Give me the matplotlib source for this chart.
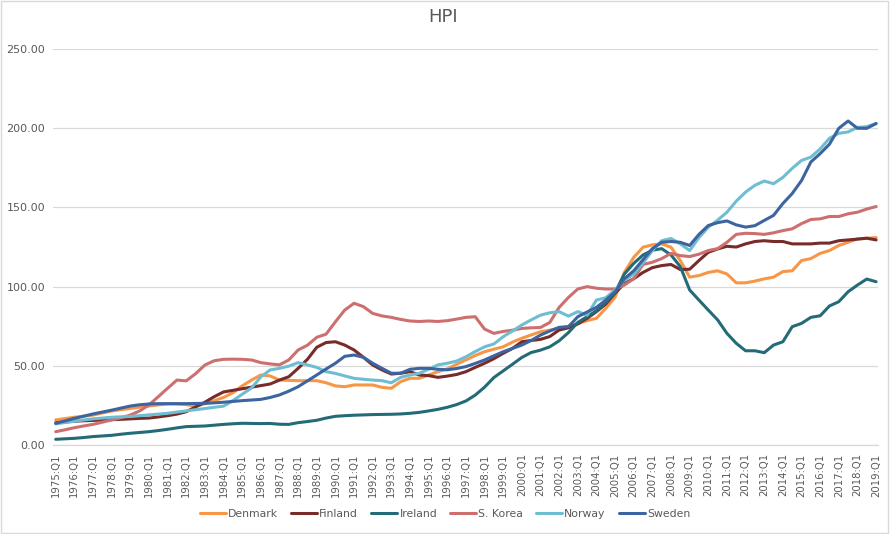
import matplotlib.pyplot as plt
import matplotlib.patches as patches

# quarterly category axis, 1975:Q1 .. 2019:Q1
quarters = [f"{y}:Q{q}" for y in range(1975, 2020) for q in range(1, 5)][:177]
# values read at Q1 and Q3 of each year
periods = [f"{y}:Q{q}" for y in range(1975, 2020) for q in (1, 3)][:89]

denmark = [15.8, 16.7, 17.5, 18.2, 18.9, 20.2, 21.5, 22.3, 23.1, 23.9,
           24.6, 25.3, 25.9, 25.9, 25.5, 24.5, 26.0, 28.0, 30.0, 33.0,
           37.3, 41.0, 44.2, 43.6, 41.0, 40.8, 40.6, 40.6, 40.6, 39.3,
           37.3, 36.8, 37.9, 37.9, 37.9, 36.4, 35.8, 40.0, 42.1, 42.1,
           44.2, 46.3, 48.0, 51.0, 53.7, 56.5, 58.9, 60.5, 62.0, 65.0,
           67.4, 69.5, 71.5, 72.5, 73.7, 75.0, 76.8, 78.5, 80.0, 86.3,
           93.3, 109.0, 118.5, 124.9, 126.4, 127.0, 124.9, 116.5, 106.0, 107.0,
           109.0, 110.0, 108.0, 102.4, 102.4, 103.5, 104.9, 106.0, 109.5, 110.0,
           116.5, 117.7, 121.0, 122.8, 126.0, 128.0, 130.2, 130.5, 131.0]
finland = [14.0, 14.5, 15.0, 15.3, 15.5, 15.8, 16.0, 16.2, 16.5, 16.8,
           17.0, 17.7, 18.5, 19.5, 21.0, 24.0, 27.0, 30.5, 33.5, 34.5,
           35.5, 36.5, 37.5, 38.5, 41.0, 43.1, 48.4, 54.1, 61.7, 64.7,
           65.2, 63.1, 60.0, 55.4, 50.5, 47.4, 44.8, 45.3, 46.3, 44.2,
           43.8, 42.7, 43.5, 44.5, 46.3, 49.0, 51.6, 54.5, 57.9, 61.0,
           65.2, 66.0, 66.7, 68.5, 72.6, 74.0, 76.4, 80.0, 84.2, 89.0,
           95.8, 102.0, 105.0, 109.0, 112.0, 113.3, 114.0, 110.8, 111.0, 116.5,
           121.7, 123.8, 125.5, 125.0, 127.0, 128.5, 129.0, 128.5, 128.5, 127.0,
           127.0, 127.0, 127.5, 127.5, 129.0, 129.5, 130.0, 130.6, 129.5]
ireland = [3.6, 3.9, 4.2, 4.7, 5.3, 5.7, 6.1, 6.8, 7.4, 7.9,
           8.4, 9.1, 9.9, 10.8, 11.6, 11.8, 12.0, 12.5, 13.0, 13.4,
           13.7, 13.6, 13.5, 13.6, 13.1, 13.0, 14.1, 14.8, 15.6, 17.0,
           18.1, 18.5, 18.8, 19.0, 19.2, 19.3, 19.4, 19.6, 20.0, 20.6,
           21.5, 22.5, 23.8, 25.5, 27.8, 31.5, 36.5, 42.6, 46.8, 51.0,
           55.3, 58.4, 59.9, 62.0, 65.8, 71.0, 77.4, 81.0, 84.8, 90.0,
           96.4, 108.0, 114.7, 120.0, 123.0, 124.0, 120.0, 112.6, 97.9, 91.5,
           85.2, 79.0, 70.5, 64.2, 59.5, 59.5, 58.3, 63.1, 65.2, 74.7,
           76.8, 80.6, 81.6, 87.8, 90.5, 96.8, 101.0, 104.8, 103.1]
korea = [8.4, 9.6, 10.9, 12.0, 13.0, 14.4, 15.8, 17.2, 18.9, 21.5,
         25.3, 30.5, 35.8, 41.0, 40.5, 45.0, 50.5, 53.2, 54.1, 54.2,
         54.1, 53.7, 52.0, 51.2, 50.6, 53.7, 60.0, 63.0, 68.0, 70.0,
         77.8, 85.2, 89.5, 87.4, 83.1, 81.5, 80.6, 79.3, 78.3, 78.0,
         78.3, 78.0, 78.5, 79.5, 80.6, 81.0, 73.2, 70.5, 71.7, 72.5,
         73.6, 74.0, 74.2, 77.4, 86.9, 93.2, 98.5, 100.0, 99.0, 98.5,
         98.5, 101.0, 105.0, 114.0, 115.4, 117.7, 121.0, 119.6, 119.0, 120.5,
         122.8, 124.0, 128.0, 133.0, 133.7, 133.5, 133.0, 134.0, 135.4, 136.5,
         139.8, 142.4, 142.8, 144.3, 144.3, 146.0, 147.0, 149.0, 150.6]
norway = [13.3, 14.2, 15.0, 15.8, 16.5, 17.0, 17.5, 17.8, 18.0, 18.5,
          19.0, 19.5, 20.0, 20.8, 21.5, 22.3, 23.0, 23.8, 24.5, 28.0,
          32.0, 36.0, 43.0, 47.4, 48.4, 49.8, 52.0, 50.6, 49.0, 46.3,
          45.2, 43.6, 42.1, 41.5, 41.0, 40.6, 39.3, 42.7, 44.2, 45.3,
          47.8, 50.6, 51.6, 53.0, 55.7, 59.0, 62.0, 63.8, 68.4, 72.0,
          75.8, 79.0, 82.0, 83.5, 84.2, 81.4, 84.2, 82.0, 91.5, 93.0,
          97.9, 104.0, 108.0, 115.0, 122.8, 129.0, 130.4, 127.0, 122.8, 131.0,
          137.5, 142.0, 147.0, 154.0, 159.7, 164.0, 166.7, 165.0, 169.0, 174.7,
          179.7, 181.8, 187.0, 193.7, 196.8, 197.7, 200.6, 201.0, 203.0]
sweden = [13.7, 15.2, 16.8, 18.2, 19.6, 20.8, 22.0, 23.3, 24.6, 25.4,
          25.9, 26.1, 26.1, 26.1, 26.1, 26.2, 26.3, 26.6, 27.0, 27.5,
          28.0, 28.4, 28.8, 30.0, 31.6, 34.0, 36.8, 40.5, 44.2, 48.0,
          51.6, 56.0, 56.8, 55.4, 51.6, 48.4, 45.3, 45.3, 47.8, 48.4,
          48.4, 47.8, 47.5, 48.3, 49.5, 51.5, 53.7, 56.3, 58.9, 61.0,
          63.1, 66.0, 69.4, 72.0, 74.3, 74.7, 81.0, 84.0, 86.9, 91.5,
          96.8, 105.0, 110.0, 117.0, 124.0, 128.0, 128.5, 128.0, 126.0, 133.0,
          138.6, 140.4, 141.5, 139.0, 137.6, 138.5, 141.8, 145.0, 152.5, 158.8,
          167.0, 178.7, 184.0, 190.0, 200.0, 204.6, 200.0, 200.0, 203.0]

series = [("Denmark", denmark, "#F79646"),
          ("Finland", finland, "#772C2A"),
          ("Ireland", ireland, "#246B78"),
          ("S. Korea", korea, "#CD6F6F"),
          ("Norway", norway, "#6FBDD1"),
          ("Sweden", sweden, "#3C64A0")]

text_col = "#595959"
grid_col = "#D9D9D9"

fig = plt.figure(figsize=(8.9, 5.34), dpi=100)
ax = fig.add_axes([0.060, 0.1667, 0.927, 0.7413])

x = [quarters.index(p) for p in periods]
for name, vals, col in series:
    ax.plot(x, vals, color=col, linewidth=2.2, label=name, solid_capstyle="round")

ax.set_xlim(-0.5, len(quarters) - 0.5)
ax.set_ylim(0, 250)
ax.set_yticks(range(0, 251, 50))
ax.set_yticklabels([f"{v:.2f}" for v in range(0, 251, 50)], color=text_col, fontsize=8)
tick_pos = list(range(0, len(quarters), 4))
ax.set_xticks(tick_pos)
ax.set_xticklabels([quarters[i] for i in tick_pos], rotation=90, color=text_col, fontsize=7.3)
ax.tick_params(axis="both", length=0, pad=6)
ax.grid(axis="y", color=grid_col, linewidth=0.9)
ax.set_axisbelow(True)
for s in ["top", "right", "left"]:
    ax.spines[s].set_visible(False)
ax.spines["bottom"].set_color(grid_col)
ax.spines["bottom"].set_linewidth(0.9)

fig.text(0.498, 0.968, "HPI", ha="center", va="center", fontsize=13, color=text_col)
fig.legend(loc="center", bbox_to_anchor=(0.5, 0.037), ncol=6, frameon=False,
           fontsize=7.8, labelcolor=text_col, handlelength=2.4, handletextpad=0.2,
           columnspacing=1.2)

# chart area border
fig.patches.append(patches.Rectangle((0.001, 0.001), 0.997, 0.997, transform=fig.transFigure,
                                     fill=False, edgecolor=grid_col, linewidth=1))

fig.savefig("out.png", dpi=100)
